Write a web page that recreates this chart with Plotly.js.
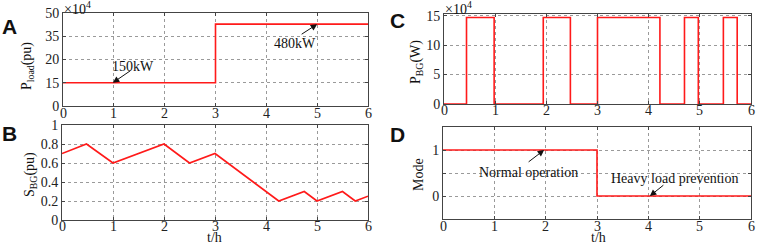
<!DOCTYPE html>
<html><head><meta charset="utf-8">
<script src="https://cdn.plot.ly/plotly-3.0.1.min.js"></script>
<style>html,body{margin:0;padding:0;background:#fff;}#g{width:757px;height:246px;}</style>
</head><body><div id="g"></div>
<script>
// ---- data ----
const xTickVals = [0, 1, 2, 3, 4, 5, 6];
const xTickText = ['0', '1', '2', '3', '4', '5', '6'];
const tLoad = [0, 3, 6];
const pLoad = [12.5, 44, 44];
const loadTickVals = [0, 12.5, 25, 37.5, 50];
const loadTickText = ['0', '15', '20', '35', '50'];
const tSoc = [0, 0.48, 1, 2, 2.5, 3, 4.25, 4.75, 5, 5.5, 5.75, 6];
const soc = [0.7, 0.8, 0.6, 0.8, 0.6, 0.7, 0.2, 0.3, 0.2, 0.3, 0.2, 0.25];
const socTickVals = [0, 0.2, 0.4, 0.6, 0.8, 1];
const socTickText = ['0', '0.2', '0.4', '0.6', '0.8', '1'];
const tBG = [0, 0.44, 0.98, 1.94, 2.47, 3.0, 4.22, 4.70, 4.97, 5.46, 5.73, 6];
const pBG = [0, 14.7, 0, 14.7, 0, 14.7, 0, 14.7, 0, 14.7, 0, 0];
const bgTickVals = [0, 5, 10, 15];
const tMode = [0, 3, 6];
const mode = [1, 0, 0];
const modeTickVals = [-0.5, 0, 0.5, 1, 1.5];
const modeTickText = ['', '0', '', '1', ''];

const W = 757, H = 246;
const px = v => v / W, py = v => 1 - v / H;
const serif = 'Liberation Serif, Times New Roman, serif';
const red = '#ff1a1a';

function ax(extra) {
  return Object.assign({
    showline: true, mirror: 'ticks', linecolor: '#444', linewidth: 1,
    ticks: 'inside', ticklen: 3, tickcolor: '#444',
    showgrid: true, gridcolor: '#9a9a9a', griddash: 'dot', gridwidth: 1,
    zeroline: false, fixedrange: true,
    tickfont: {family: serif, size: 14, color: '#222'}
  }, extra);
}
function xax(extra) {
  return ax(Object.assign({showticklabels: false}, extra));
}

const line = {color: red, width: 1.6};
const traces = [
  {x: tLoad, y: pLoad, xaxis: 'x', yaxis: 'y', mode: 'lines', line: Object.assign({shape: 'hv'}, line)},
  {x: tSoc, y: soc, xaxis: 'x2', yaxis: 'y2', mode: 'lines', line: line},
  {x: tBG, y: pBG, xaxis: 'x3', yaxis: 'y3', mode: 'lines', line: Object.assign({shape: 'hv'}, line)},
  {x: tMode, y: mode, xaxis: 'x4', yaxis: 'y4', mode: 'lines', line: Object.assign({shape: 'hv'}, line)}
];

const ann = [];
function txt(x, y, t, opts) {
  ann.push(Object.assign({xref: 'paper', yref: 'paper', x: px(x), y: py(y), text: t, showarrow: false,
    xanchor: 'center', yanchor: 'middle', font: {family: serif, size: 14, color: '#111'}}, opts || {}));
}
function arrow(xr, yr, x, y, dx, dy) {
  ann.push({xref: xr, yref: yr, x: x, y: y, ax: dx, ay: dy, text: '', showarrow: true,
    arrowhead: 2, arrowsize: 1.3, arrowwidth: 1, arrowcolor: '#111'});
}
// x tick labels placed on each x axis scale, close under the frame
function xLabels(xr, yPix) {
  xTickVals.forEach((v, i) => ann.push({xref: xr, yref: 'paper', x: v, y: py(yPix), text: xTickText[i],
    showarrow: false, xanchor: 'center', yanchor: 'middle', font: {family: serif, size: 14, color: '#222'}}));
}
xLabels('x', 113);
xLabels('x2', 226);
xLabels('x3', 111);
xLabels('x4', 226);
// panel letters
const letterFont = {family: 'Liberation Sans, Arial, sans-serif', size: 21, color: '#111', weight: 'bold'};
txt(9, 26, '<b>A</b>', {font: letterFont});
txt(9, 133, '<b>B</b>', {font: letterFont});
txt(398, 20, '<b>C</b>', {font: letterFont});
txt(398, 134, '<b>D</b>', {font: letterFont});
// y titles
txt(27, 66, 'P<sub>load</sub>(pu)', {textangle: -90});
txt(30, 175, 'S<sub>BG</sub>(pu)', {textangle: -90});
txt(417, 62, 'P<sub>BG</sub>(W)', {textangle: -90});
txt(418, 175, 'Mode', {textangle: -90});
// x titles
txt(214, 237.5, 't/h');
txt(598, 237.5, 't/h');
// exponent labels
txt(62, 8, '×10<sup>4</sup>', {xanchor: 'left'});
txt(443, 8, '×10<sup>4</sup>', {xanchor: 'left'});
// callouts
txt(133, 66, '150kW');
arrow('x', 'y', 0.98, 12.5, 19, -13);
txt(295, 43, '480kW');
arrow('x', 'y', 5.0, 44, -17, 11);
txt(528, 172, 'Normal operation');
arrow('x4', 'y4', 1.97, 1, -17, 13);
txt(675, 178, 'Heavy load prevention');
arrow('x4', 'y4', 4.03, 0, 15, -12);

const layout = {
  width: W, height: H, margin: {l: 0, r: 0, t: 0, b: 0},
  paper_bgcolor: '#fff', plot_bgcolor: '#fff', showlegend: false,
  xaxis: xax({domain: [px(63), px(368)], range: [0, 6], tickvals: xTickVals, anchor: 'y'}),
  yaxis: ax({domain: [py(106), py(13)], range: [0, 50], tickvals: loadTickVals, ticktext: loadTickText, anchor: 'x'}),
  xaxis2: xax({domain: [px(62), px(368)], range: [0, 6], tickvals: xTickVals, anchor: 'y2'}),
  yaxis2: ax({domain: [py(220), py(125)], range: [0, 1], tickvals: socTickVals, ticktext: socTickText, anchor: 'x2'}),
  xaxis3: xax({domain: [px(444), px(751)], range: [0, 6], tickvals: xTickVals, anchor: 'y3'}),
  yaxis3: ax({domain: [py(104), py(14)], range: [0, 15.3], tickvals: bgTickVals, anchor: 'x3'}),
  xaxis4: xax({domain: [px(443), px(751)], range: [0, 6], tickvals: xTickVals, anchor: 'y4'}),
  yaxis4: ax({domain: [py(219), py(127)], range: [-0.5, 1.5], tickvals: modeTickVals, ticktext: modeTickText, anchor: 'x4'}),
  annotations: ann
};
Plotly.newPlot('g', traces, layout, {staticPlot: true, displayModeBar: false});
</script></body></html>
